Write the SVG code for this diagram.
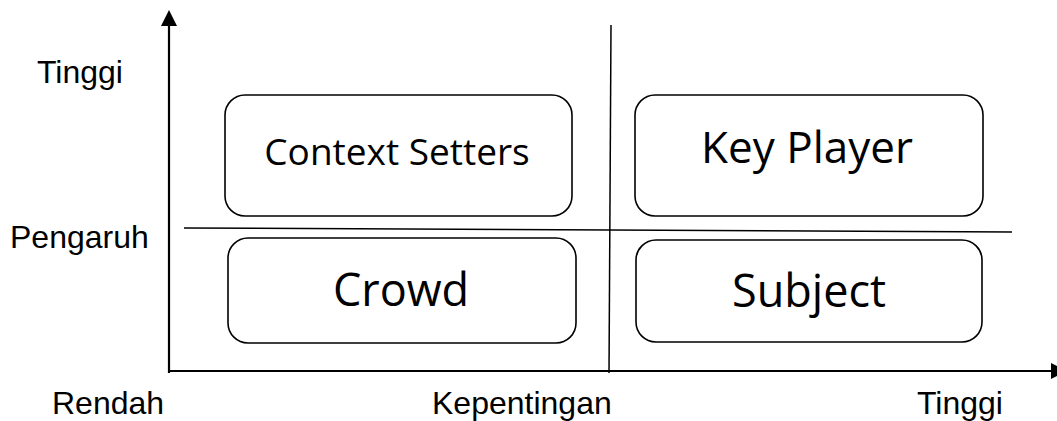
<svg xmlns="http://www.w3.org/2000/svg" width="1057" height="421" viewBox="0 0 1057 421">
  <style>
    .box { fill: #ffffff; stroke: #000000; stroke-width: 1.6; }
    .axis { stroke: #000000; stroke-width: 2.2; fill: none; }
    .divider { stroke: #000000; stroke-width: 1.5; fill: none; }
    .label { font-family: "Liberation Sans", Arial, sans-serif; font-size: 32px; fill: #000000; }
    .node-text { font-family: "Open Sans", "Noto Sans", sans-serif; fill: #000000; text-anchor: middle; }
  </style>
  <rect width="1057" height="421" fill="#ffffff"/>

  <!-- axes and quadrant dividers -->
  <g id="connectors">
    <line class="axis" x1="169" y1="373" x2="169" y2="20"/>
    <path d="M161,26 L169,10 L177,26 z" fill="#000000"/>
    <line class="axis" x1="168" y1="371" x2="1054" y2="371"/>
    <path d="M1051,363 L1067,371 L1051,379 z" fill="#000000"/>
    <line class="divider" x1="611" y1="25" x2="609" y2="373"/>
    <line class="divider" x1="184" y1="228" x2="1012" y2="232"/>
  </g>

  <!-- quadrant nodes -->
  <g id="context-setters">
    <rect class="box" x="225" y="95" width="347" height="121" rx="20" ry="20"/>
    <text class="node-text" x="397" y="165" font-size="37">Context Setters</text>
  </g>
  <g id="key-player">
    <rect class="box" x="635" y="95" width="348" height="121" rx="20" ry="20"/>
    <text class="node-text" x="807" y="163" font-size="44">Key Player</text>
  </g>
  <g id="crowd">
    <rect class="box" x="228" y="238" width="348" height="105" rx="20" ry="20"/>
    <text class="node-text" x="401" y="306" font-size="45">Crowd</text>
  </g>
  <g id="subject">
    <rect class="box" x="636" y="240" width="346" height="102" rx="20" ry="20"/>
    <text class="node-text" x="809" y="307" font-size="45">Subject</text>
  </g>

  <!-- axis labels -->
  <g id="axis-labels">
    <text class="label" x="37" y="83">Tinggi</text>
    <text class="label" x="10" y="248">Pengaruh</text>
    <text class="label" x="52" y="414">Rendah</text>
    <text class="label" x="432" y="414">Kepentingan</text>
    <text class="label" x="917" y="414">Tinggi</text>
  </g>
</svg>
